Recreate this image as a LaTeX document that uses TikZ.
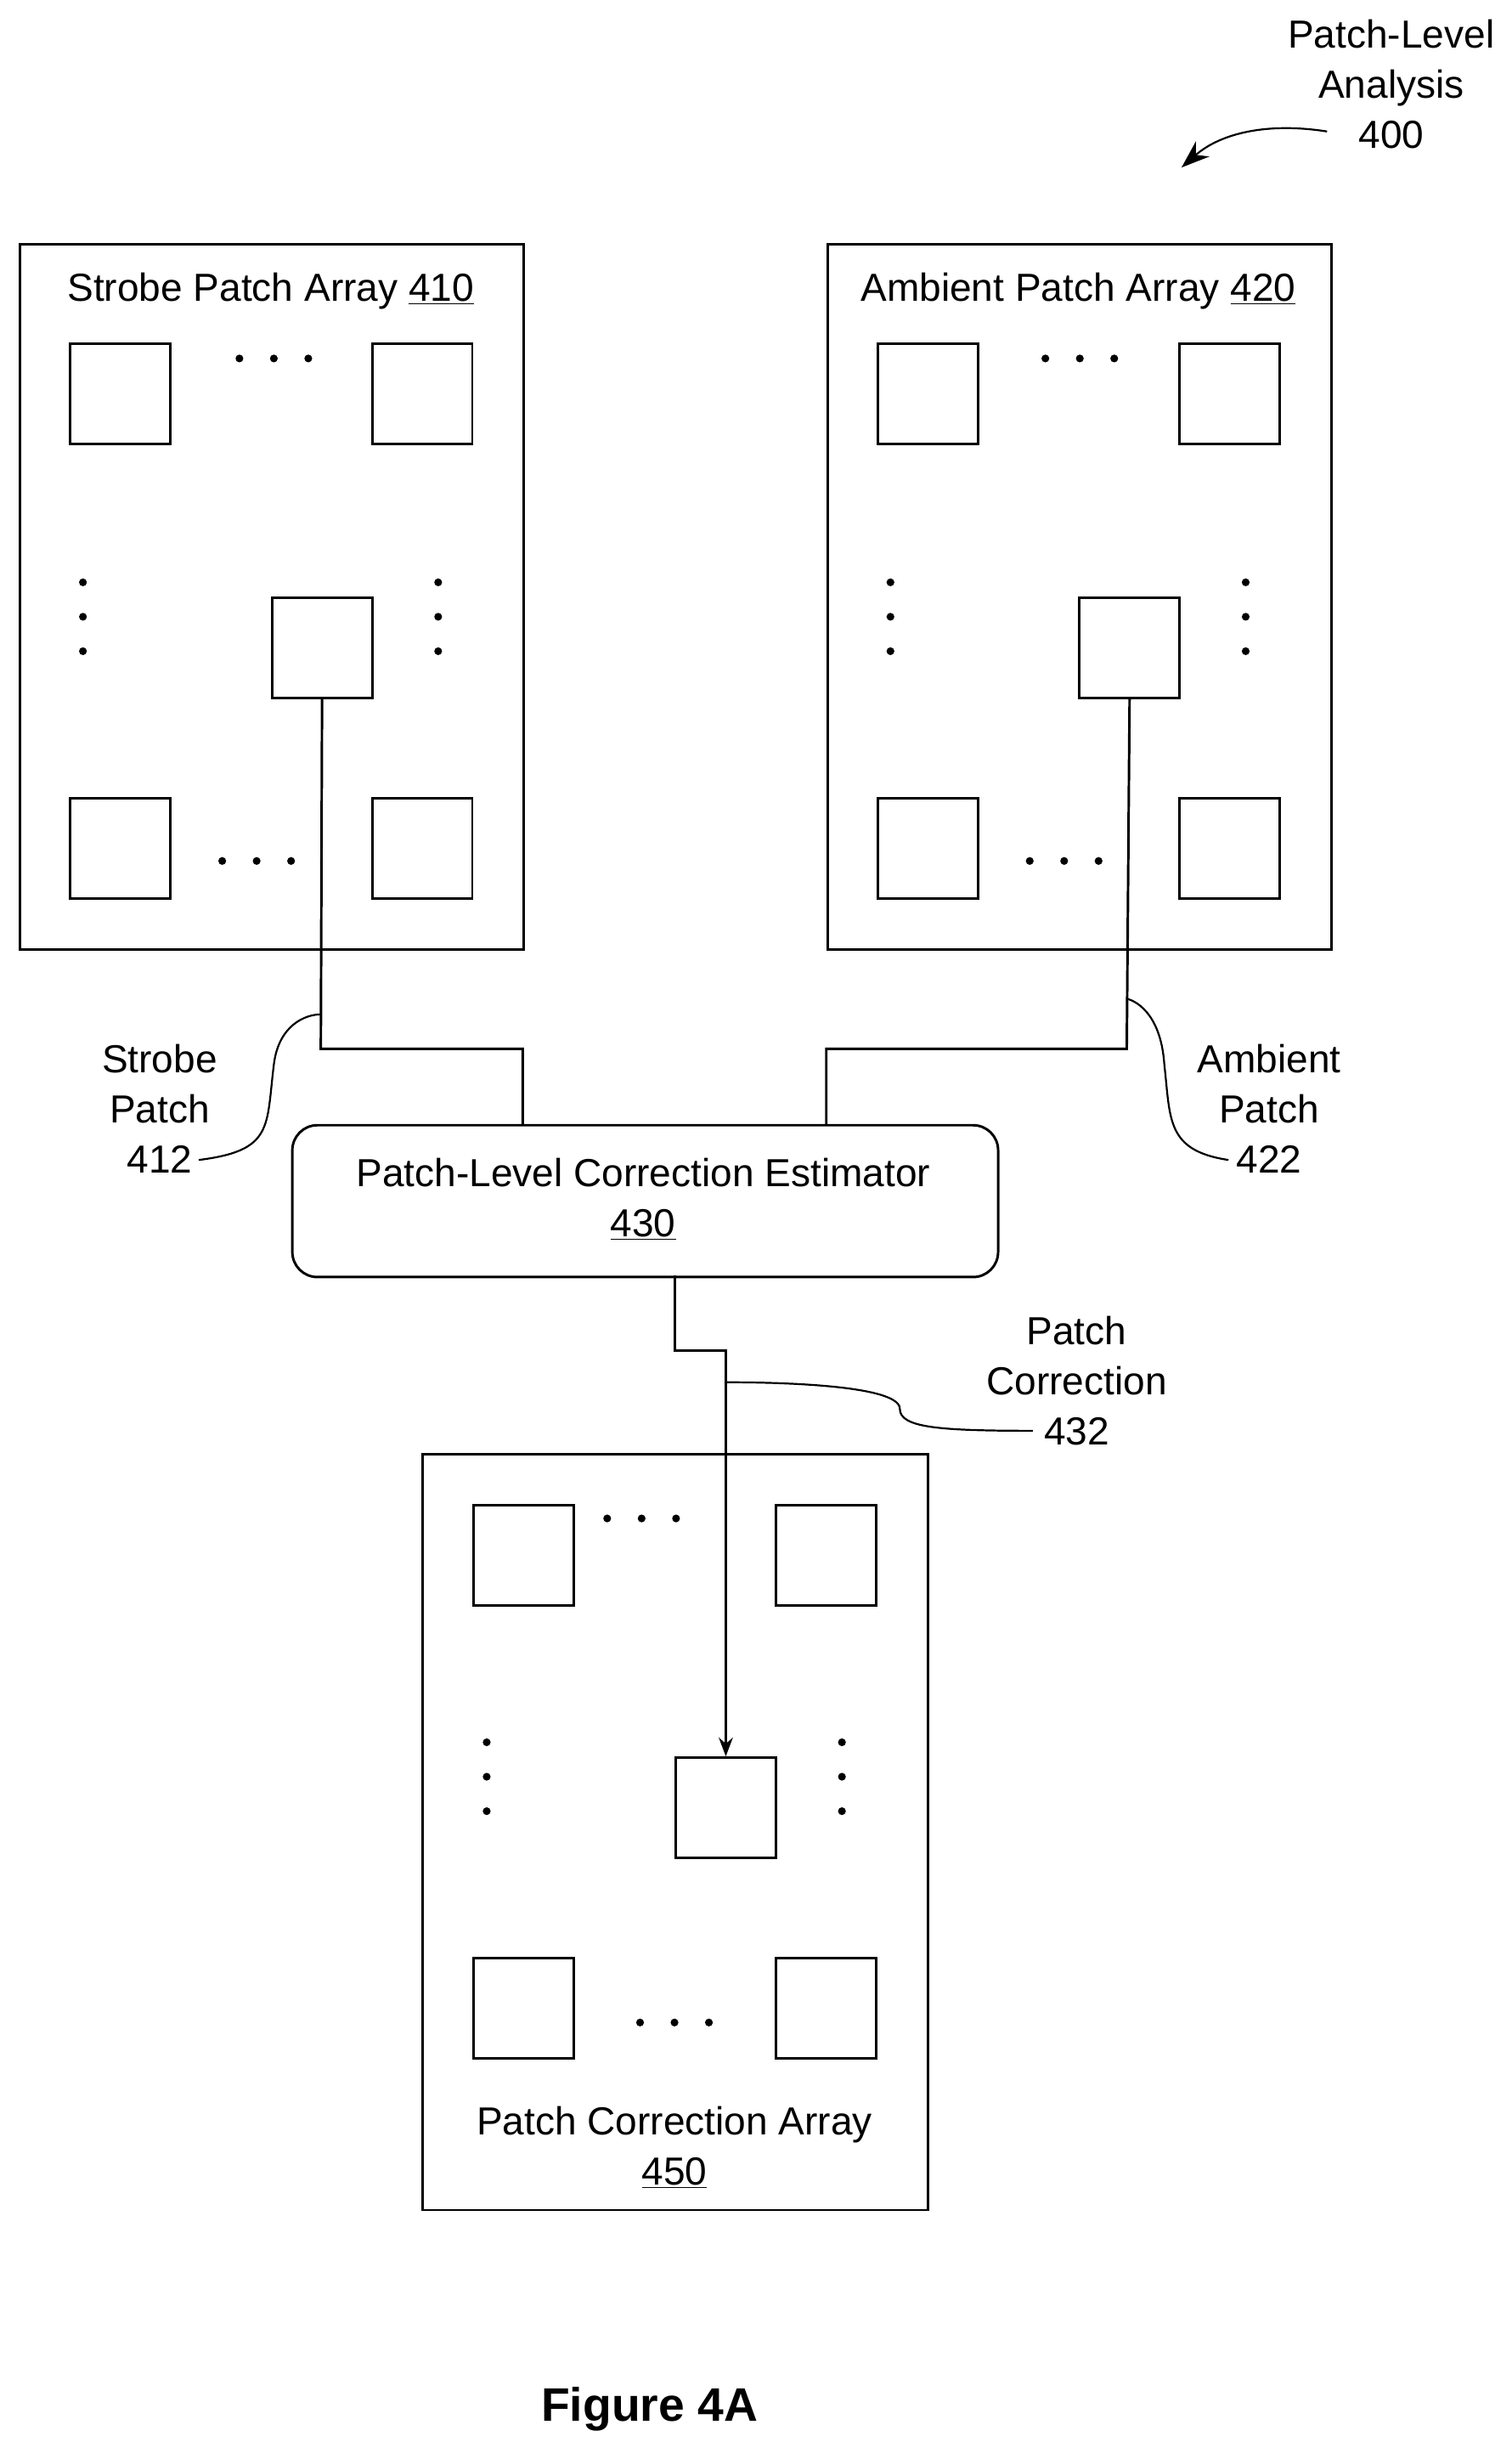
\documentclass[tikz,border=0pt]{standalone}
\usepackage{fontspec}
\setmainfont{Liberation Sans}
\usetikzlibrary{arrows.meta}
\begin{document}
\begin{tikzpicture}[x=1pt,y=-1pt,line width=1.6pt,
  sq/.style={draw,minimum size=64pt,inner sep=0,anchor=north west},
  lbl/.style={font=\fontsize{25}{32}\selectfont,align=center},
  dot/.style={fill,circle,inner sep=0,minimum size=5pt}]
\useasboundingbox (0,0) rectangle (966,1560);
% strobe array
\node[draw,minimum width=322pt,minimum height=451pt,inner sep=0,anchor=north west] (A) at (12,155) {};
\node[lbl] (At) at (173,186) {Strobe Patch Array \underline{410}};
\foreach \n/\x/\y in {a1/44/219,a2/237/219,ac/173/381,a3/44/509,a4/237/509} \node[sq] (\n) at (\x,\y) {};
% ambient array
\node[draw,minimum width=322pt,minimum height=451pt,inner sep=0,anchor=north west] (B) at (528,155) {};
\node[lbl] (Bt) at (689,186) {Ambient Patch Array \underline{420}};
\foreach \n/\x/\y in {b1/560/219,b2/753/219,bc/689/381,b3/560/509,b4/753/509} \node[sq] (\n) at (\x,\y) {};
% correction array
\node[draw,minimum width=323pt,minimum height=483pt,inner sep=0,anchor=north west] (C) at (269,928) {};
\foreach \n/\x/\y in {c1/302/961,c2/495/961,cc/431/1122,c3/302/1250,c4/495/1250} \node[sq] (\n) at (\x,\y) {};
\node[lbl] (Ct) at (431,1372) {Patch Correction Array\\\underline{450}};
% dots
\foreach \x/\y in {153/229,175/229,197/229,142/550,164/550,186/550,
  668/229,690/229,712/229,658/550,680/550,702/550,
  388/970,410/970,432/970,409/1292,431/1292,453/1292,
  53/372,53/394,53/416,280/372,280/394,280/416,
  569/372,569/394,569/416,796/372,796/394,796/416,
  311/1113,311/1135,311/1157,538/1113,538/1135,538/1157}
  \node[dot] at (\x,\y) {};
% estimator
\node[draw,rounded corners=16pt,minimum width=451pt,minimum height=97pt,inner sep=0,anchor=north west] (E) at (186,718) {};
\node[lbl] (Et) at (411,766) {Patch-Level Correction Estimator\\\underline{430}};
% connectors
\coordinate (e1) at (334,718);
\coordinate (e2) at (528,718);
\draw (ac.south) -- (205,670) -| (e1);
\draw (bc.south) -- (720,670) -| (e2);
\coordinate (eo) at (431,815);
\draw[-{Stealth[length=12pt,width=9pt]}] (eo) -- (431,863) -| (cc.north);
% labels
\node[lbl] (L1) at (102,708) {Strobe\\Patch\\412};
\draw[line width=1.2pt] (127,741) .. controls (175,735) and (170,720) .. (175,680) .. controls (178,655) and (195,648) .. (205,648);
\node[lbl] (L2) at (811,708) {Ambient\\Patch\\422};
\draw[line width=1.2pt] (785,741) .. controls (745,735) and (748,715) .. (744,680) .. controls (742,650) and (728,640) .. (720,638);
\node[lbl] (L3) at (688,882) {Patch\\Correction\\432};
\draw[line width=1.2pt] (660,914) .. controls (600,914) and (575,912) .. (575,900) .. controls (575,885) and (500,883) .. (463,883);
\node[lbl] (L4) at (889,54) {Patch-Level\\Analysis\\400};
\coordinate (ar) at (755,107);
\draw[line width=1.2pt,-{Stealth[length=18pt,width=13pt]}] (848,84) .. controls (810,78) and (780,85) .. (ar);
\node[font=\fontsize{30}{36}\selectfont\bfseries] (F) at (415,1539) {Figure 4A};
\end{tikzpicture}
\end{document}
